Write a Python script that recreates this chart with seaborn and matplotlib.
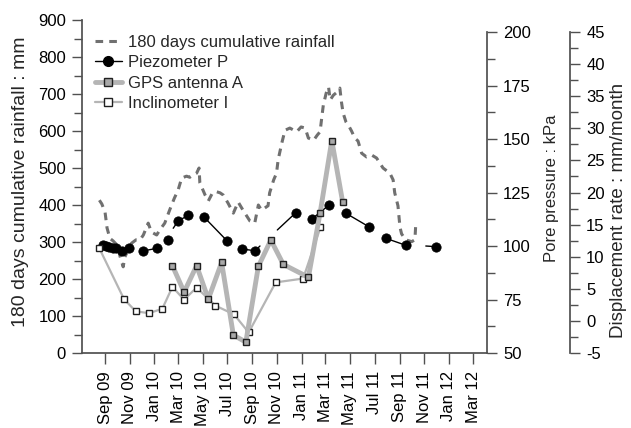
import pandas as pd
import matplotlib.pyplot as plt
import matplotlib.dates as mdates
import matplotlib.ticker as mticker
from matplotlib.lines import Line2D
import seaborn as sns

sns.set_theme(style='ticks')
plt.rcParams['font.family'] = ['Liberation Sans', 'DejaVu Sans']
plt.rcParams['xtick.labelsize'] = 12
plt.rcParams['ytick.labelsize'] = 12
plt.rcParams['legend.fontsize'] = 12
plt.rcParams['axes.unicode_minus'] = False
plt.rcParams['axes.edgecolor'] = '#505050'
plt.rcParams['xtick.color'] = '#505050'
plt.rcParams['ytick.color'] = '#505050'
plt.rcParams['xtick.labelcolor'] = 'black'
plt.rcParams['ytick.labelcolor'] = 'black'

# 180 days cumulative rainfall (mm)
rain_dates = ['2009-08-18', '2009-08-24', '2009-09-01', '2009-09-06', '2009-09-13', '2009-09-21',
              '2009-09-28', '2009-10-04', '2009-10-08', '2009-10-16', '2009-10-20', '2009-10-28',
              '2009-11-06', '2009-11-17', '2009-11-27', '2009-12-05', '2009-12-17', '2009-12-25',
              '2010-01-07', '2010-01-15', '2010-01-27', '2010-02-08', '2010-02-20', '2010-03-01',
              '2010-03-10', '2010-03-22', '2010-03-30', '2010-04-07', '2010-04-16', '2010-04-22',
              '2010-04-24', '2010-05-07', '2010-05-15', '2010-05-24', '2010-06-01', '2010-06-13',
              '2010-06-21', '2010-07-03', '2010-07-16', '2010-07-28', '2010-08-09', '2010-08-26',
              '2010-09-07', '2010-09-16', '2010-09-24', '2010-10-10', '2010-10-14', '2010-10-24',
              '2010-10-31', '2010-11-04', '2010-11-13', '2010-11-21', '2010-12-03', '2010-12-20',
              '2010-12-31', '2011-01-10', '2011-01-18', '2011-01-31', '2011-02-09', '2011-02-16',
              '2011-02-20', '2011-02-24', '2011-03-03', '2011-03-09', '2011-03-13', '2011-03-21',
              '2011-03-30', '2011-04-06', '2011-04-10', '2011-04-14', '2011-04-21', '2011-04-27',
              '2011-05-05', '2011-05-13', '2011-05-21', '2011-05-30', '2011-06-11', '2011-06-24',
              '2011-07-06', '2011-07-22', '2011-08-08', '2011-08-16', '2011-08-20', '2011-08-28',
              '2011-09-02', '2011-09-06', '2011-09-16', '2011-10-01', '2011-10-09', '2011-10-11']
rain_mm = [413, 403, 381, 338, 310, 303,
           295, 284, 262, 233, 259, 278,
           297, 306, 306, 319, 351, 327,
           319, 333, 351, 386, 419, 440,
           473, 478, 475, 481, 486, 500,
           460, 427, 411, 430, 437, 433,
           427, 405, 378, 408, 386, 357,
           351, 400, 386, 398, 433, 468,
           486, 522, 567, 602, 608, 598,
           611, 608, 581, 575, 589, 598,
           635, 670, 702, 719, 684, 697,
           705, 716, 678, 649, 625, 616,
           600, 581, 573, 540, 530, 535,
           527, 500, 486, 468, 433, 398,
           340, 322, 306, 301, 306, 346]

# Piezometer P (kPa)
piezo_dates = ['2009-08-26', '2009-09-03', '2009-09-11', '2009-09-20', '2009-09-28', '2009-10-12',
               '2009-10-31', '2009-12-03', '2010-01-08', '2010-02-03', '2010-03-01', '2010-03-26',
               '2010-05-05', '2010-06-30', '2010-08-06', '2010-09-08', '2010-12-18', '2011-01-28',
               '2011-03-11', '2011-04-21', '2011-06-17', '2011-07-29', '2011-09-17', '2011-12-01']
piezo_kpa = [100.5, 100.0, 99.7, 99.2, 99.2, 97.8,
             99.2, 97.7, 98.9, 102.8, 111.7, 114.3,
             113.4, 102.5, 98.6, 97.8, 115.6, 112.8,
             119.3, 115.3, 109.0, 103.6, 100.3, 99.7]
# connecting lines of the piezometer record (with gaps)
piezo_line_dates = ['2009-08-26', '2009-09-03', '2009-09-11', '2009-09-20', '2009-09-28', '2009-10-12',
                    '2009-12-03', '2010-01-08',
                    '2010-02-17', '2010-03-01', '2010-03-26',
                    '2010-05-05', '2010-06-30',
                    '2010-08-06', '2010-09-08', '2010-09-20',
                    '2010-11-02', '2010-12-18',
                    '2011-01-28', '2011-03-11',
                    '2011-04-21', '2011-06-17',
                    '2011-07-29', '2011-09-17',
                    '2011-11-05', '2011-12-01']
piezo_line_kpa = [100.5, 100.0, 99.7, 99.2, 99.2, 97.8,
                  97.7, 98.9,
                  108.3, 111.7, 114.3,
                  113.4, 102.5,
                  98.6, 97.8, 100.0,
                  107.5, 115.6,
                  112.8, 119.3,
                  115.3, 109.0,
                  103.6, 100.3,
                  100.0, 99.7]
piezo_line_seg = [0, 0, 0, 0, 0, 0, 1, 1, 2, 2, 2, 3, 3, 4, 4, 4, 5, 5, 6, 6, 7, 7, 8, 8, 9, 9]

# GPS antenna A (mm/month)
gps_dates = ['2010-02-15', '2010-03-16', '2010-04-16', '2010-05-15', '2010-06-17', '2010-07-16',
             '2010-08-16', '2010-09-16', '2010-10-17', '2010-11-17', '2011-01-18', '2011-02-16',
             '2011-03-17', '2011-04-13']
gps_rate = [8.6, 4.5, 8.6, 3.4, 9.1, -2.2, -3.3, 8.5, 12.6, 8.8, 6.8, 16.8, 28.1, 18.5]

# Inclinometer I (mm/month)
inc_dates = ['2009-08-18', '2009-10-18', '2009-11-16', '2009-12-19', '2010-01-21', '2010-02-15',
             '2010-03-16', '2010-04-16', '2010-06-01', '2010-07-18', '2010-08-23', '2010-10-29',
             '2011-01-05', '2011-02-17']
inc_rate = [11.3, 3.4, 1.5, 1.2, 1.9, 5.3, 3.3, 5.2, 2.4, 1.0, -1.8, 6.0, 6.6, 14.6]

rain = pd.DataFrame({'date': pd.to_datetime(rain_dates), 'mm': rain_mm})
piezo = pd.DataFrame({'date': pd.to_datetime(piezo_dates), 'kpa': piezo_kpa})
piezo_line = pd.DataFrame({'date': pd.to_datetime(piezo_line_dates), 'kpa': piezo_line_kpa,
                           'seg': piezo_line_seg})
gps = pd.DataFrame({'date': pd.to_datetime(gps_dates), 'rate': gps_rate})
inc = pd.DataFrame({'date': pd.to_datetime(inc_dates), 'rate': inc_rate})

fig = plt.figure(figsize=(6.31, 4.28), dpi=100)
# rainfall axis is a bit taller than the two right-hand axes
ax = fig.add_axes([0.130, 0.1752, 0.642, 0.778])
ax2 = fig.add_axes([0.130, 0.1752, 0.642, 0.750], sharex=ax)
ax3 = fig.add_axes([0.130, 0.1752, 0.642, 0.750], sharex=ax)
for a in (ax2, ax3):
    a.patch.set_visible(False)
    a.yaxis.tick_right()
    a.yaxis.set_label_position('right')
    a.xaxis.set_visible(False)
ax3.spines['right'].set_position(('axes', 1.205))

rain_color = '#707070'
gps_line = '#b5b5b5'

# rainfall
sns.lineplot(data=rain, x='date', y='mm', ax=ax, color=rain_color, lw=2.2,
             linestyle=(0, (2.5, 2)), legend=False)

# piezometer
sns.lineplot(data=piezo_line, x='date', y='kpa', units='seg', estimator=None, ax=ax2,
             color='black', lw=1, legend=False)
sns.scatterplot(data=piezo, x='date', y='kpa', ax=ax2, color='black', s=45,
                edgecolor='black', zorder=4, legend=False)

# displacement rates
sns.lineplot(data=inc, x='date', y='rate', ax=ax3, color=gps_line, lw=1.6,
             marker='s', markersize=5, markerfacecolor='white', markeredgecolor='#202020',
             markeredgewidth=1, legend=False)
sns.lineplot(data=gps, x='date', y='rate', ax=ax3, color=gps_line, lw=3.5,
             marker='s', markersize=5, markerfacecolor='#a8a8a8', markeredgecolor='#202020',
             markeredgewidth=1, legend=False)

ax.set_xlim(pd.Timestamp('2009-07-06'), pd.Timestamp('2012-04-05'))
ax.set_ylim(0, 900)
ax2.set_ylim(50, 200)
ax3.set_ylim(-5, 45)

ax.xaxis.set_major_locator(mdates.MonthLocator(bymonth=[1, 3, 5, 7, 9, 11]))
ax.xaxis.set_major_formatter(mdates.DateFormatter('%b %y'))
ax.tick_params(axis='x', rotation=90, direction='out', length=8, width=1, pad=5)
ax.set_xlabel('')

ax.yaxis.set_major_locator(mticker.MultipleLocator(100))
ax.yaxis.set_minor_locator(mticker.MultipleLocator(50))
ax2.yaxis.set_major_locator(mticker.MultipleLocator(25))
ax2.yaxis.set_minor_locator(mticker.MultipleLocator(12.5))
ax3.yaxis.set_major_locator(mticker.MultipleLocator(5))
ax3.yaxis.set_minor_locator(mticker.MultipleLocator(2.5))
for a in (ax, ax2, ax3):
    a.tick_params(axis='y', which='major', direction='out', length=7, width=1, pad=4.5)
    a.tick_params(axis='y', which='minor', direction='out', length=6, width=1)
    a.spines['top'].set_visible(False)
ax.tick_params(axis='y', which='major', pad=4.5)
ax.spines['right'].set_visible(False)
for a in (ax2, ax3):
    a.spines['left'].set_visible(False)
    a.spines['bottom'].set_visible(False)

ax.set_ylabel('180 days cumulative rainfall : mm', fontsize=14)
ax2.set_ylabel('Pore pressure : kPa', fontsize=12)
ax3.set_ylabel('Displacement rate : mm/month', fontsize=13.5)
ax.yaxis.set_label_coords(-0.13, 0.515)
ax2.yaxis.set_label_coords(1.141, 0.513)
ax3.yaxis.set_label_coords(1.303, 0.443)

handles = [
    Line2D([], [], color=rain_color, lw=2.2, linestyle=(0, (2.5, 2))),
    Line2D([], [], color='black', lw=1, marker='o', markersize=7),
    Line2D([], [], color=gps_line, lw=3.5, marker='s', markersize=6,
           markerfacecolor='#a8a8a8', markeredgecolor='#202020'),
    Line2D([], [], color=gps_line, lw=1.6, marker='s', markersize=6,
           markerfacecolor='white', markeredgecolor='#202020'),
]
labels = ['180 days cumulative rainfall', 'Piezometer P', 'GPS antenna A', 'Inclinometer I']
ax3.legend(handles, labels, loc='upper left', bbox_to_anchor=(0.015, 1.012), frameon=False,
           handlelength=1.62, handletextpad=0.36, labelspacing=0.33, borderaxespad=0)

fig.savefig('out.png', dpi=100)
